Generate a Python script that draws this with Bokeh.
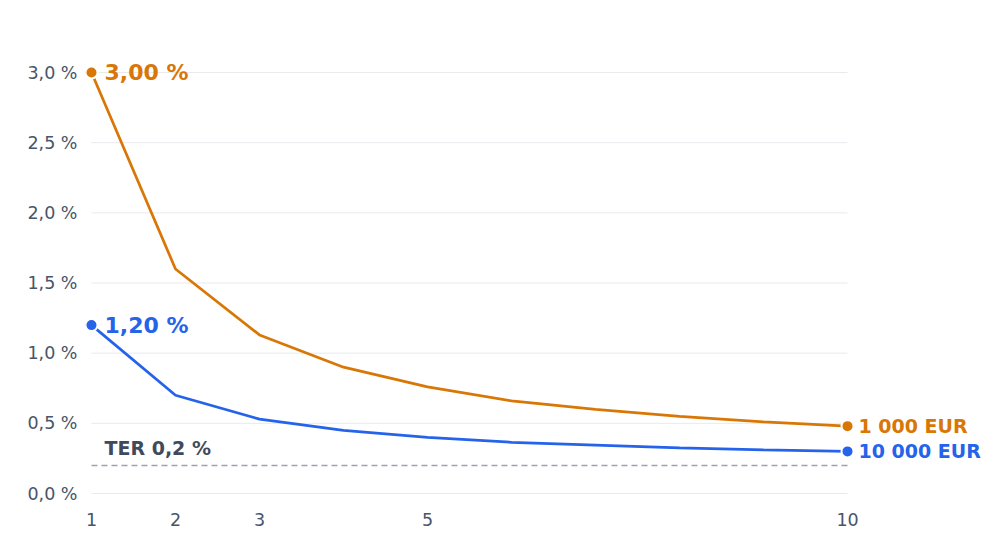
from bokeh.plotting import figure
from bokeh.models import Range1d, FixedTicker, CustomJSTickFormatter, Label
from bokeh.embed import file_html
from bokeh.resources import INLINE

# ---- data ----
years = [1, 2, 3, 4, 5, 6, 7, 8, 9, 10]
cost_1000 = [3.00, 1.60, 1.13, 0.90, 0.76, 0.66, 0.60, 0.55, 0.51, 0.48]
cost_10000 = [1.20, 0.70, 0.53, 0.45, 0.40, 0.365, 0.345, 0.325, 0.31, 0.30]
ter = 0.2
y_ticks = [0.0, 0.5, 1.0, 1.5, 2.0, 2.5, 3.0]
x_ticks = [1, 2, 3, 5, 10]
series_names = ["1 000 EUR", "10 000 EUR"]
start_labels = ["3,00 %", "1,20 %"]
ter_label = "TER 0,2 %"

ORANGE = "#d97706"
BLUE = "#2563eb"
FONT = "DejaVu Sans"
TICK_COLOR = "#475569"

p = figure(width=992, height=552, output_backend="svg", toolbar_location=None,
           x_range=Range1d(0.9286, 11.726), y_range=Range1d(-0.0855, 3.3706),
           min_border_left=85, min_border_right=0, min_border_top=20, min_border_bottom=47)
p.outline_line_color = None
p.background_fill_color = "white"
p.xgrid.visible = False
p.ygrid.visible = False

for ax in (p.xaxis[0], p.yaxis[0]):
    ax.axis_line_color = None
    ax.major_tick_line_color = None
    ax.minor_tick_line_color = None
    ax.major_label_text_font = FONT
    ax.major_label_text_font_size = "17.5px"
    ax.major_label_text_color = TICK_COLOR
p.xaxis[0].ticker = FixedTicker(ticks=x_ticks)
p.yaxis[0].ticker = FixedTicker(ticks=y_ticks)
p.yaxis[0].formatter = CustomJSTickFormatter(code="return tick.toFixed(1).replace('.', ',') + ' %'")
p.yaxis[0].major_label_standoff = 2
p.xaxis[0].major_label_standoff = 1

# gridlines over the data x-extent
x0 = min(years)
x1 = max(years)
p.segment(x0=[x0] * len(y_ticks), x1=[x1] * len(y_ticks), y0=y_ticks, y1=y_ticks,
          line_color="#e8eaee", line_width=1)

# TER dashed line
p.segment(x0=[x0], x1=[x1], y0=[ter], y1=[ter], line_color="#9ca3af",
          line_width=1.5, line_dash="6 4")
p.add_layout(Label(x=x0, y=ter, x_offset=13, y_offset=17, text=ter_label,
                   text_font=FONT, text_font_size="19px", text_font_style="bold",
                   text_color="#3f4a5c", text_baseline="middle"))

for ys, color, name, slab in [(cost_1000, ORANGE, series_names[0], start_labels[0]),
                              (cost_10000, BLUE, series_names[1], start_labels[1])]:
    p.line(years, ys, line_color=color, line_width=2.75)
    p.scatter([years[0], years[-1]], [ys[0], ys[-1]], size=12, fill_color=color,
              line_color="white", line_width=2)
    p.add_layout(Label(x=years[0], y=ys[0], x_offset=13, text=slab, text_font=FONT,
                       text_font_size="22px", text_font_style="bold",
                       text_color=color, text_baseline="middle"))
    p.add_layout(Label(x=years[-1], y=ys[-1], x_offset=11, text=name, text_font=FONT,
                       text_font_size="19px", text_font_style="bold",
                       text_color=color, text_baseline="middle"))

open("out.html", "w").write(file_html(p, INLINE))
